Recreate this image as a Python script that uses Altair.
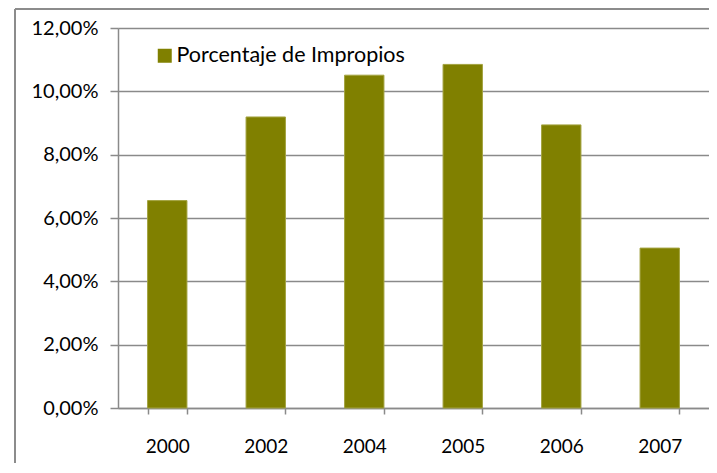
import altair as alt
import pandas as pd

years = ["2000", "2002", "2004", "2005", "2006", "2007"]
values = [0.0655, 0.0919, 0.1051, 0.1085, 0.0894, 0.0505]
series = ["Porcentaje de Impropios"] * len(years)

df = pd.DataFrame({"Año": years, "Valor": values, "Serie": series})

FONT = "Lato"
GRID = "#8a8a8a"

bars = alt.Chart(df).mark_bar(stroke="#a3a340", strokeWidth=1).encode(
    x=alt.X("Año:N", sort=years, title=None,
            scale=alt.Scale(paddingInner=0.6, paddingOuter=0.3),
            axis=alt.Axis(labelAngle=0, labelFontSize=19, labelFont=FONT, labelColor="#000000",
                          tickBand="extent", tickSize=6, tickColor=GRID, tickWidth=1.5,
                          domainColor=GRID, domainWidth=1.5, labelPadding=23, grid=False)),
    y=alt.Y("Valor:Q", title=None,
            scale=alt.Scale(domain=[0, 0.12], nice=False),
            axis=alt.Axis(values=[0, 0.02, 0.04, 0.06, 0.08, 0.10, 0.12],
                          labelExpr="replace(format(datum.value, '.2%'), '.', ',')",
                          labelFontSize=20, labelFont=FONT, labelColor="#000000",
                          tickSize=8, tickColor=GRID, tickWidth=1.5, labelPadding=12,
                          domainColor=GRID, domainWidth=1.5,
                          grid=True, gridColor=GRID, gridWidth=1.5)),
    color=alt.Color("Serie:N", title=None,
                    scale=alt.Scale(range=["#808000"]),
                    legend=alt.Legend(orient="none", legendX=36, legendY=17,
                                      symbolType="square", symbolSize=196,
                                      symbolStrokeWidth=0,
                                      labelFontSize=21.5, labelFont=FONT, labelColor="#000000",
                                      labelLimit=400, labelOffset=1)),
)

frame_left = alt.Chart(df).mark_rule(color="#8c8c8c", strokeWidth=2, clip=False).encode(
    x=alt.value(-103), y=alt.value(-19), y2=alt.value(460))
frame_top = alt.Chart(df).mark_rule(color="#8c8c8c", strokeWidth=2, clip=False).encode(
    x=alt.value(-103), x2=alt.value(595), y=alt.value(-19))

chart = alt.layer(bars, frame_left, frame_top).properties(
    width=591, height=380,
    autosize=alt.AutoSizeParams(type="none"),
    padding={"left": 110, "top": 20, "right": 0, "bottom": 55},
).configure_view(stroke=None).configure(background="white")

chart.save("out.html", embed_options={"renderer": "svg", "actions": False})
